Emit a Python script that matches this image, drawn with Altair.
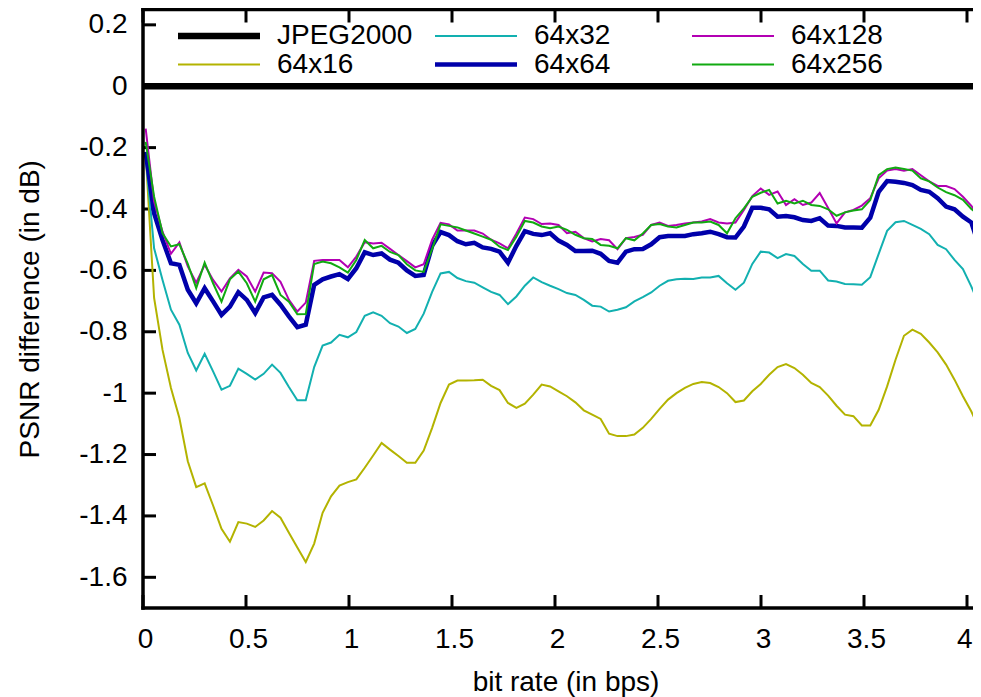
import altair as alt
import pandas as pd

# ---------------- data ----------------
rate_start = 0.013
rate_step = 0.0409

series_names = ["JPEG2000", "64x16", "64x32", "64x64", "64x128", "64x256"]
series_colors = ["#000000", "#b3b300", "#12b0b0", "#0000aa", "#b300b3", "#11aa11"]

jpeg2000_rate = [0.0, 4.2]
jpeg2000 = [0.0, 0.0]

s64x16 = [
    -0.220, -0.690, -0.859, -0.983, -1.081, -1.222, -1.306, -1.294, -1.366, -1.442,
    -1.484, -1.420, -1.425, -1.436, -1.415, -1.384, -1.406, -1.455, -1.503, -1.550,
    -1.490, -1.390, -1.336, -1.301, -1.290, -1.281, -1.243, -1.203, -1.162, -1.184,
    -1.205, -1.227, -1.227, -1.187, -1.113, -1.032, -0.972, -0.959, -0.959, -0.958,
    -0.956, -0.976, -0.990, -1.032, -1.048, -1.034, -1.005, -0.972, -0.978, -0.994,
    -1.010, -1.030, -1.056, -1.070, -1.084, -1.132, -1.140, -1.140, -1.135, -1.113,
    -1.084, -1.051, -1.021, -1.000, -0.983, -0.970, -0.964, -0.967, -0.980, -1.000,
    -1.029, -1.024, -0.994, -0.970, -0.940, -0.915, -0.905, -0.918, -0.940, -0.967,
    -0.980, -1.008, -1.041, -1.070, -1.075, -1.105, -1.105, -1.054, -0.978, -0.891,
    -0.813, -0.793, -0.807, -0.835, -0.867, -0.907, -0.956, -1.010, -1.060, -1.120,
    -1.200,
]

s64x32 = [
    -0.230, -0.528, -0.631, -0.728, -0.777, -0.869, -0.926, -0.872, -0.929, -0.989,
    -0.976, -0.920, -0.937, -0.956, -0.937, -0.907, -0.934, -0.980, -1.023, -1.023,
    -0.915, -0.845, -0.835, -0.810, -0.818, -0.801, -0.748, -0.737, -0.748, -0.772,
    -0.783, -0.804, -0.791, -0.741, -0.670, -0.610, -0.605, -0.625, -0.635, -0.640,
    -0.655, -0.670, -0.680, -0.710, -0.685, -0.650, -0.623, -0.638, -0.650, -0.661,
    -0.674, -0.680, -0.696, -0.715, -0.718, -0.734, -0.728, -0.720, -0.701, -0.687,
    -0.672, -0.650, -0.634, -0.629, -0.627, -0.628, -0.623, -0.623, -0.618, -0.642,
    -0.663, -0.640, -0.579, -0.539, -0.542, -0.560, -0.547, -0.553, -0.579, -0.601,
    -0.601, -0.633, -0.636, -0.644, -0.645, -0.647, -0.622, -0.546, -0.471, -0.443,
    -0.439, -0.452, -0.465, -0.482, -0.517, -0.531, -0.566, -0.596, -0.653, -0.718,
    -0.800,
]

s64x64 = [
    -0.214, -0.414, -0.501, -0.577, -0.582, -0.663, -0.707, -0.658, -0.701, -0.745,
    -0.718, -0.671, -0.696, -0.739, -0.688, -0.680, -0.712, -0.750, -0.785, -0.777,
    -0.647, -0.629, -0.620, -0.612, -0.628, -0.593, -0.541, -0.550, -0.545, -0.565,
    -0.575, -0.600, -0.618, -0.615, -0.520, -0.475, -0.485, -0.505, -0.515, -0.510,
    -0.525, -0.530, -0.539, -0.575, -0.520, -0.472, -0.481, -0.485, -0.479, -0.503,
    -0.517, -0.537, -0.537, -0.536, -0.546, -0.569, -0.575, -0.539, -0.531, -0.530,
    -0.515, -0.492, -0.488, -0.488, -0.488, -0.482, -0.479, -0.474, -0.482, -0.492,
    -0.493, -0.457, -0.396, -0.396, -0.401, -0.425, -0.423, -0.427, -0.436, -0.439,
    -0.430, -0.454, -0.455, -0.460, -0.460, -0.461, -0.428, -0.344, -0.309, -0.311,
    -0.315, -0.322, -0.338, -0.344, -0.365, -0.392, -0.401, -0.425, -0.444, -0.528,
    -0.600,
]

s64x128 = [
    -0.138, -0.376, -0.474, -0.546, -0.509, -0.587, -0.640, -0.582, -0.631, -0.669,
    -0.626, -0.598, -0.620, -0.669, -0.607, -0.609, -0.637, -0.696, -0.734, -0.705,
    -0.569, -0.566, -0.566, -0.566, -0.590, -0.555, -0.508, -0.512, -0.510, -0.530,
    -0.550, -0.570, -0.590, -0.580, -0.500, -0.445, -0.450, -0.470, -0.470, -0.470,
    -0.480, -0.500, -0.512, -0.528, -0.480, -0.428, -0.433, -0.449, -0.447, -0.452,
    -0.479, -0.474, -0.495, -0.506, -0.498, -0.502, -0.531, -0.495, -0.491, -0.484,
    -0.452, -0.444, -0.455, -0.452, -0.447, -0.444, -0.441, -0.433, -0.444, -0.447,
    -0.444, -0.403, -0.358, -0.333, -0.354, -0.343, -0.387, -0.368, -0.387, -0.379,
    -0.348, -0.397, -0.447, -0.411, -0.403, -0.389, -0.365, -0.300, -0.275, -0.270,
    -0.275, -0.270, -0.290, -0.310, -0.325, -0.325, -0.335, -0.360, -0.390, -0.430,
]

s64x256 = [
    -0.181, -0.360, -0.479, -0.522, -0.515, -0.579, -0.658, -0.575, -0.642, -0.702,
    -0.629, -0.604, -0.642, -0.702, -0.629, -0.615, -0.680, -0.702, -0.743, -0.742,
    -0.579, -0.571, -0.577, -0.590, -0.607, -0.566, -0.501, -0.528, -0.520, -0.540,
    -0.550, -0.580, -0.600, -0.605, -0.530, -0.450, -0.455, -0.460, -0.470, -0.480,
    -0.490, -0.500, -0.523, -0.534, -0.490, -0.439, -0.444, -0.457, -0.463, -0.457,
    -0.468, -0.484, -0.495, -0.498, -0.517, -0.520, -0.528, -0.495, -0.502, -0.480,
    -0.452, -0.449, -0.457, -0.460, -0.452, -0.444, -0.444, -0.441, -0.452, -0.479,
    -0.430, -0.398, -0.360, -0.347, -0.338, -0.382, -0.373, -0.382, -0.373, -0.387,
    -0.390, -0.401, -0.422, -0.411, -0.405, -0.401, -0.371, -0.290, -0.270, -0.265,
    -0.270, -0.275, -0.300, -0.310, -0.330, -0.345, -0.355, -0.370, -0.400, -0.420,
]

x_tick_values = [0, 0.5, 1, 1.5, 2, 2.5, 3, 3.5, 4]
y_tick_values = [-1.6, -1.4, -1.2, -1.0, -0.8, -0.6, -0.4, -0.2, 0, 0.2]

# ---------------- build tables ----------------
rows = []
for r, v in zip(jpeg2000_rate, jpeg2000):
    rows.append({"series": "JPEG2000", "rate": r, "psnr": v})
for name, vals in zip(series_names[1:], [s64x16, s64x32, s64x64, s64x128, s64x256]):
    for i, v in enumerate(vals):
        rows.append({"series": name, "rate": rate_start + rate_step * i, "psnr": v})
df = pd.DataFrame(rows)
xt = pd.DataFrame({"rate": x_tick_values})
yt = pd.DataFrame({"psnr": y_tick_values})
one = pd.DataFrame({"k": [0]})

# ---------------- chart ----------------
PX_PER_UNIT = 206.0
W, H = 830, 598.5
FONT = "Liberation Sans"
FS = 28
TICK = 13

xscale = alt.Scale(domain=[0, W / PX_PER_UNIT], nice=False, zero=False)
yscale = alt.Scale(domain=[-1.7, 0.25], nice=False, zero=False)
num_expr = "datum.value < 0 ? '-' + format(-datum.value, '~g') : format(datum.value, '~g')"

xaxis = alt.Axis(
    values=x_tick_values, labelExpr=num_expr, labelFont=FONT, labelFontSize=FS,
    labelColor="black", labelPadding=39, labelBaseline="alphabetic", labelFlush=False,
    labelOverlap=False,
    labelAlign={"condition": {"test": "datum.value === 4", "value": "right"}, "value": "center"},
    labelOffset={"condition": {"test": "datum.value === 4", "value": 5}, "value": 2},
    ticks=False, tickSize=0, domain=False, grid=False,
    title="bit rate (in bps)", titleFont=FONT, titleFontSize=FS, titleFontWeight="normal",
    titleColor="black", titleX=422.5, titleY=82, titleAlign="center",
    titleBaseline="alphabetic",
)
yaxis = alt.Axis(
    values=y_tick_values, labelExpr=num_expr, labelFont=FONT, labelFontSize=FS,
    labelColor="black", labelPadding=16, labelFlush=False, labelOverlap=False,
    ticks=False, tickSize=0, domain=False, grid=False,
    title="PSNR difference (in dB)", titleFont=FONT, titleFontSize=FS,
    titleFontWeight="normal", titleColor="black", titleAngle=270, titleX=-105,
    titleY=H / 2, titleAlign="center", titleBaseline="alphabetic",
)

legend = alt.Legend(
    title=None, orient="none", legendX=62, legendY=12.5, columns=3,
    symbolType="stroke", symbolSize=6724, labelFont=FONT, labelFontSize=FS,
    labelColor="black", labelOffset=44, columnPadding=13, rowPadding=0.5,
    gridAlign="all", padding=0, labelLimit=0,
    symbolStrokeWidth=alt.ExprRef(
        "datum.value === 'JPEG2000' ? 6.5 : (datum.value === '64x64' ? 4.5 : 2)"
    ),
)

lines = alt.Chart(df).mark_line(clip=True).encode(
    x=alt.X("rate:Q", scale=xscale, axis=xaxis),
    y=alt.Y("psnr:Q", scale=yscale, axis=yaxis),
    color=alt.Color("series:N", scale=alt.Scale(domain=series_names, range=series_colors),
                    legend=legend),
    strokeWidth=alt.StrokeWidthValue(2, condition=[
        {"test": "datum.series === 'JPEG2000'", "value": 6.5},
        {"test": "datum.series === '64x64'", "value": 4.5},
    ]),
)

tick_style = dict(strokeWidth=3, color="black")
left_ticks = alt.Chart(yt).mark_rule(**tick_style).encode(
    y=alt.Y("psnr:Q", scale=yscale, axis=yaxis), x=alt.value(0), x2=alt.value(TICK))
bottom_ticks = alt.Chart(xt).mark_rule(**tick_style).encode(
    x=alt.X("rate:Q", scale=xscale, axis=xaxis), y=alt.value(H - TICK), y2=alt.value(H))
top_ticks = alt.Chart(xt).mark_rule(**tick_style).encode(
    x=alt.X("rate:Q", scale=xscale, axis=xaxis), y=alt.value(0), y2=alt.value(TICK))

border_style = dict(strokeWidth=3.5, color="black", strokeCap="square")
left_border = alt.Chart(one).mark_rule(**border_style).encode(
    x=alt.value(0), y=alt.value(0), y2=alt.value(H))
top_border = alt.Chart(one).mark_rule(**border_style).encode(
    x=alt.value(0), x2=alt.value(W), y=alt.value(0))
bottom_border = alt.Chart(one).mark_rule(**border_style).encode(
    x=alt.value(0), x2=alt.value(W), y=alt.value(H))

chart = alt.layer(
    left_ticks, bottom_ticks, top_ticks, lines, left_border, top_border, bottom_border
).properties(
    width=W, height=H,
    autosize=alt.AutoSizeParams(type="none"),
    padding={"left": 135, "top": 1.5, "right": 0, "bottom": 89},
).configure_view(stroke=None)

chart.save("out.html", embed_options={"renderer": "svg", "actions": False})
